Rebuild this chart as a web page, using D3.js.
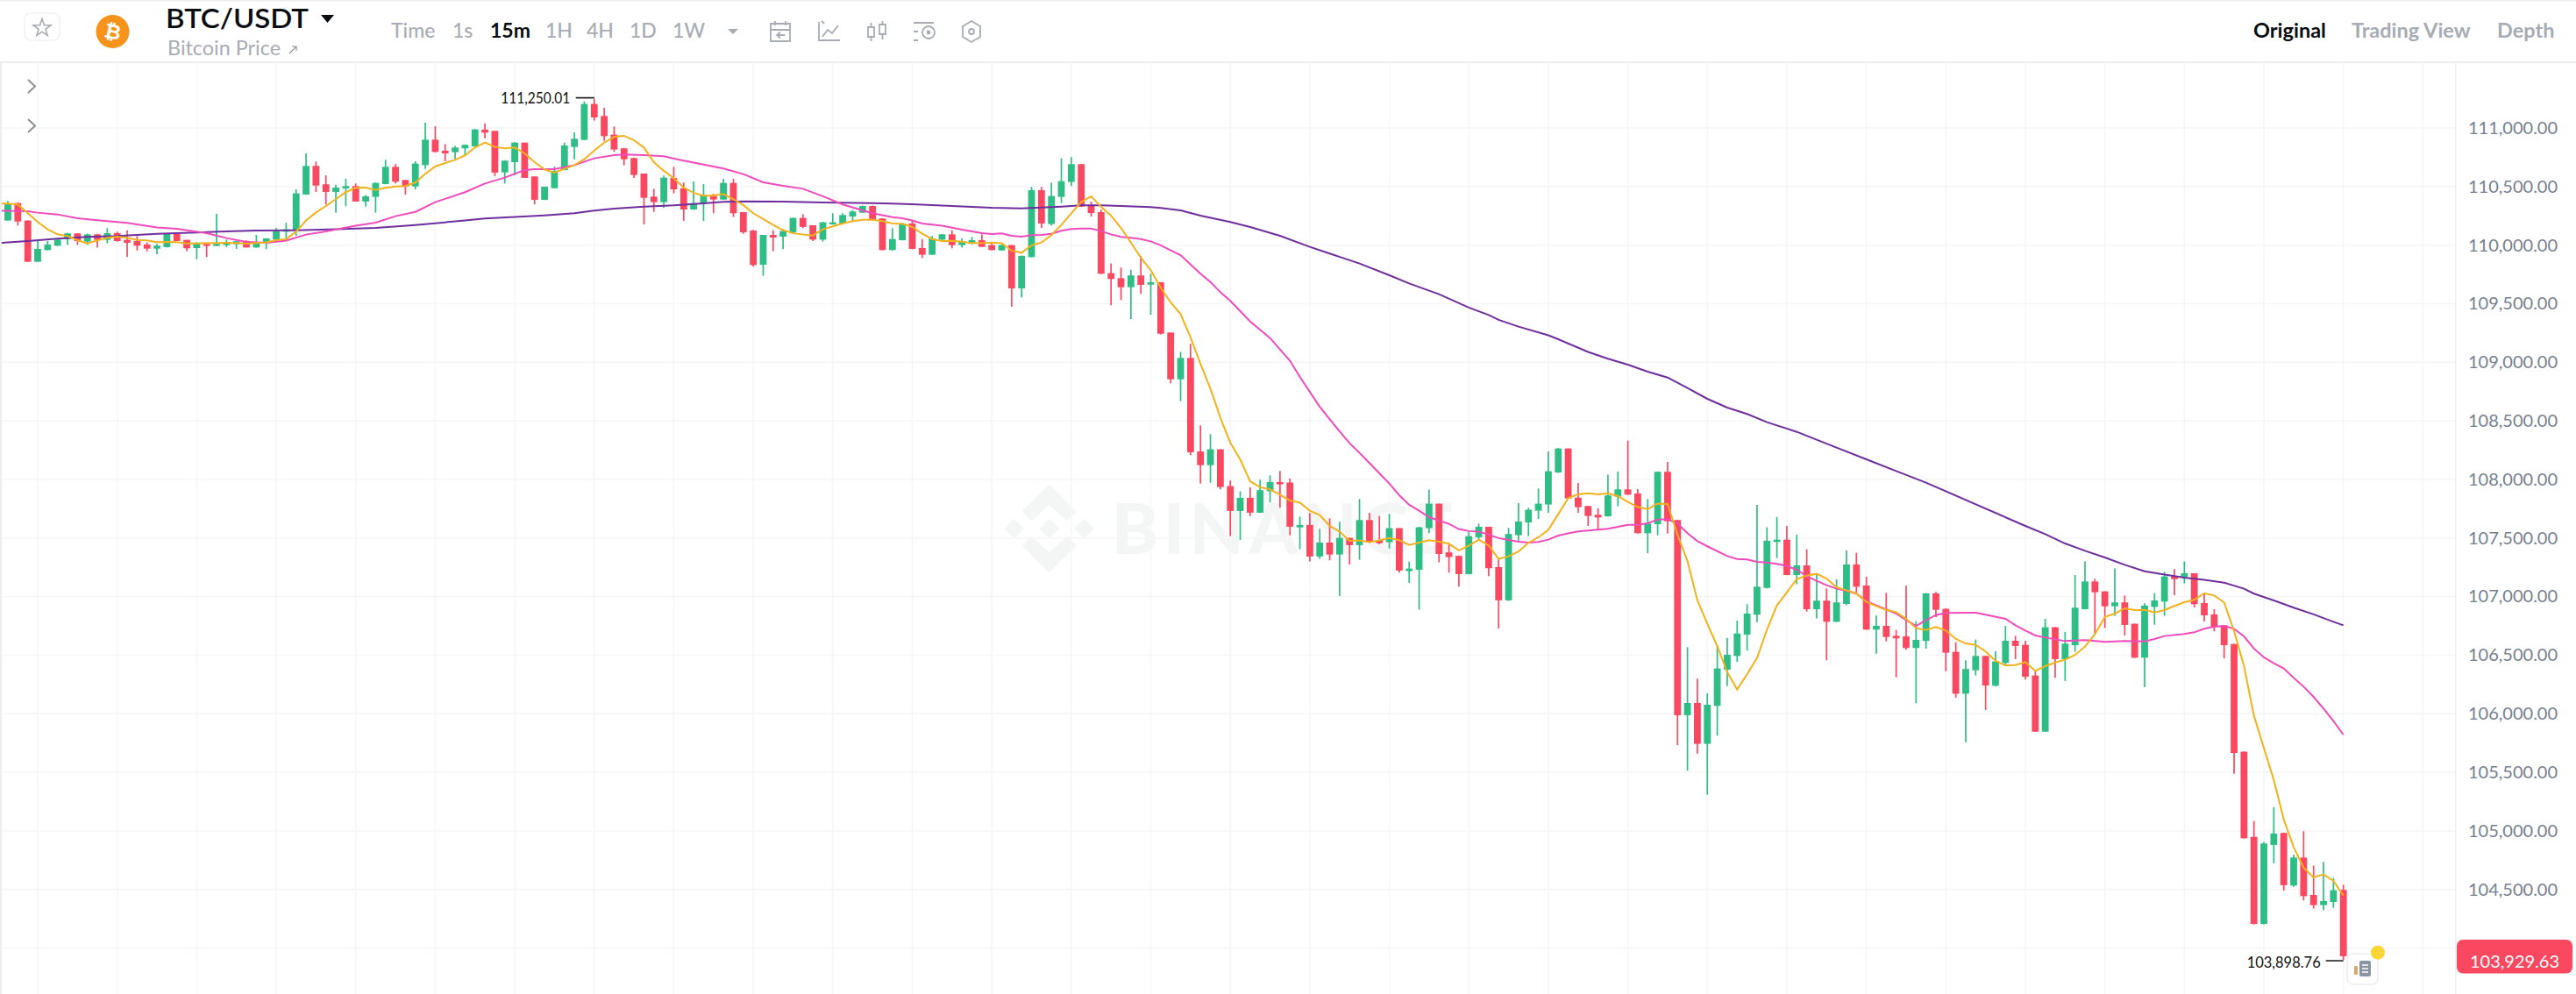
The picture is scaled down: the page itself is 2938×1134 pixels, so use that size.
<!DOCTYPE html>
<html>
<head>
<meta charset="utf-8">
<script src="https://cdnjs.cloudflare.com/ajax/libs/d3/7.8.5/d3.min.js"></script>
<style>
html,body{margin:0;padding:0;background:#fff;overflow:hidden}
svg{display:block}
text{font-family:Lato,"Open Sans",sans-serif}
</style>
</head>
<body>
<svg id="c" width="2938" height="1134"></svg>
<script>
const title = "BTC/USDT";
const subtitle = "Bitcoin Price";
const intervals = ["Time","1s","15m","1H","4H","1D","1W"];
const activeInterval = "15m";
const viewTabs = ["Original","Trading View","Depth"];
const activeView = "Original";
const priceTicks = [111000,110500,110000,109500,109000,108500,108000,107500,107000,106500,106000,105500,105000,104500];
const gridPrices = [111000,110500,110000,109500,109000,108500,108000,107500,107000,106500,106000,105500,105000,104500,104000];
const lastPrice = 103929.63;
const highMark = 111250.01;
const lowMark = 103898.76;

const open = [
110210,110359,110210,109858,109958,109995,110052,110100,110030,110092,
110045,110102,110045,110035,110005,109970,109983,110095,110045,109975,
110010,109993,110000,110008,110035,109980,110018,110047,110115,110122,
110432,110676,110519,110454,110484,110504,110372,110412,110521,110668,
110556,110501,110683,110900,110806,110793,110826,110843,110986,110975,
110621,110708,110875,110586,110387,110486,110641,110838,110898,111205,
111102,110943,110826,110743,110611,110414,110367,110574,110486,110304,
110359,110429,110389,110531,110282,110125,109833,110087,110072,110110,
110232,110170,110047,110177,110185,110244,110277,110334,110227,109958,
110042,110185,109975,109918,110047,110092,110000,110012,110042,110000,
109955,110000,109631,109898,110469,110180,110412,110539,110691,110342,
110282,109761,109718,109641,109741,109663,109683,109254,108855,109037,
108239,108122,108257,107943,107731,107843,107716,107900,107978,107973,
107591,107611,107342,107461,107359,107501,107439,107653,107479,107464,
107584,107217,107229,107584,107793,107377,107347,107192,107506,107596,
107252,106968,107524,107633,107733,107786,108060,108264,107845,107773,
107698,107685,107853,107915,107880,107541,107618,108065,107653,105987,
106092,105743,106067,106376,106493,106675,106845,107074,107466,107486,
107184,107266,106892,106965,106785,106937,107274,107094,106718,106750,
106665,106660,106561,106621,107027,106895,106528,106171,106371,106493,
106239,106433,106623,106588,106326,105847,106738,106466,106585,106892,
107129,107044,106917,106950,106768,106478,106912,106957,107172,107162,
107199,106945,106847,106755,106595,105675,104949,104206,104880,104982,
104533,104772,104453,104366,104393,104496];

const close = [
110352,110202,109858,109968,110005,110047,110100,110035,110092,110045,
110102,110035,110020,109995,109970,109995,110095,110035,109973,110020,
109993,110010,110020,110033,109980,110023,110057,110117,110135,110442,
110676,110509,110454,110491,110504,110372,110417,110531,110668,110541,
110501,110696,110900,110796,110783,110833,110856,110988,110960,110619,
110721,110875,110574,110387,110499,110634,110851,110908,111205,111090,
110930,110816,110733,110599,110404,110367,110576,110476,110304,110359,
110429,110389,110531,110272,110110,109830,110087,110065,110120,110232,
110155,110047,110195,110195,110257,110287,110334,110222,109958,110052,
110185,109968,109918,110055,110092,110000,110030,110042,109985,109958,
110000,109631,109908,110469,110185,110419,110546,110691,110329,110274,
109756,109711,109641,109741,109661,109683,109244,108855,109037,108232,
108122,108257,107935,107731,107843,107716,107908,107978,107958,107596,
107611,107342,107461,107359,107501,107439,107653,107469,107456,107584,
107222,107239,107591,107793,107364,107337,107192,107516,107596,107242,
106968,107534,107641,107741,107793,108070,108264,107838,107763,107688,
107675,107863,107915,107870,107541,107623,108065,107643,105987,106092,
105743,106077,106386,106503,106685,106855,107084,107476,107486,107184,
107266,106892,106965,106785,106950,107274,107084,106718,106750,106655,
106643,106561,106630,107027,106887,106521,106171,106381,106493,106241,
106446,106623,106578,106316,105847,106738,106466,106598,106905,107129,
107037,106917,106950,106758,106478,106922,106967,107172,107149,107199,
106935,106840,106743,106585,105665,104937,104206,104892,104977,104536,
104772,104443,104366,104401,104493,103929.63];

const high = [
110377,110365,110210,110035,110035,110060,110105,110100,110098,110095,
110145,110115,110127,110077,110023,110010,110100,110095,110045,110025,
110015,110267,110047,110035,110040,110087,110060,110147,110190,110476,
110783,110713,110596,110516,110566,110526,110427,110535,110728,110691,
110556,110716,111045,111015,110863,110846,110860,110990,111040,110975,
110725,110878,110875,110586,110499,110671,110875,110963,111227,111250.01,
111172,111013,110830,110748,110611,110481,110594,110668,110534,110544,
110521,110437,110566,110566,110282,110130,110087,110127,110135,110235,
110264,110170,110198,110272,110272,110300,110338,110338,110230,110145,
110188,110215,110050,110077,110095,110127,110060,110070,110092,110015,
110005,110000,109912,110496,110496,110534,110741,110751,110691,110372,
110302,109843,109808,109791,109908,109756,109683,109254,109087,109157,
108461,108386,108257,107990,107898,107933,107998,108035,108072,108008,
107683,107713,107579,107668,107638,107501,107833,107716,107688,107706,
107584,107297,107595,107913,107793,107446,107350,107554,107623,107596,
107317,107586,107798,107758,107923,108239,108268,108264,107970,107773,
107753,108040,108067,108331,107917,107833,108068,108149,107653,106568,
106299,106174,106581,106648,106795,106935,107783,107591,107680,107601,
107528,107404,107192,107069,107147,107394,107374,107169,106837,107032,
106715,107092,106790,107030,107039,106900,106610,106456,106633,106493,
106533,106750,106665,106623,106368,106810,106740,106698,107184,107299,
107152,107046,107241,107009,106768,106942,107029,107211,107234,107299,
107199,107029,106892,106755,106597,105680,105084,104905,105201,104985,
104797,104997,104703,104735,104598,104540];

const low = [
110210,110167,109858,109858,109955,109993,110003,110003,110003,109978,
110015,110030,109898,109955,109948,109923,109980,110035,109948,109880,
109898,109990,109983,109968,109980,109978,109965,110040,110052,110080,
110430,110454,110347,110277,110332,110372,110329,110277,110519,110526,
110432,110476,110651,110790,110716,110733,110771,110840,110913,110589,
110526,110596,110574,110349,110385,110484,110638,110733,110895,111063,
110890,110796,110681,110574,110177,110284,110317,110442,110207,110302,
110205,110272,110387,110240,110097,109816,109738,109948,109965,110105,
110145,110035,110030,110175,110180,110197,110275,110215,109955,109955,
110040,109965,109890,109915,110035,109973,109980,110007,109983,109955,
109953,109474,109554,109895,110147,110167,110359,110504,110325,110244,
109753,109486,109531,109369,109584,109406,109237,108820,108668,108207,
107965,107972,107915,107516,107484,107688,107714,107803,107758,107524,
107404,107299,107322,107309,107007,107274,107314,107459,107446,107409,
107204,107117,106888,107541,107292,107204,107085,107190,107484,107175,
106728,106963,107474,107516,107663,107716,108055,107838,107715,107603,
107573,107683,107770,107868,107538,107371,107523,107538,105733,105513,
105660,105309,105812,106236,106443,106538,106780,107070,107329,107182,
107104,106872,106813,106456,106783,106925,107035,106716,106513,106618,
106311,106546,106089,106556,106825,106363,106137,105757,106326,106032,
106231,106415,106466,106291,105845,105845,106306,106279,106528,106890,
106685,106733,106835,106668,106476,106226,106760,106835,107012,107112,
106907,106787,106703,106473,105488,104933,104200,104200,104723,104491,
104523,104406,104336,104321,104343,103898.76];

// MA(7): one reading per candle, starting one candle before the first drawn candle
const ma7 = [
110354,110354,110347,110272,110197,110135,110092,110077,110042,110015,110040,
110062,110072,110062,110045,110040,110025,110028,110025,110015,110015,
110018,110018,110020,110018,110013,110018,110023,110042,110052,110115,
110210,110279,110334,110392,110452,110489,110491,110471,110489,110501,
110504,110534,110609,110671,110701,110728,110766,110833,110875,110838,
110826,110833,110783,110708,110646,110619,110651,110683,110733,110808,
110875,110925,110933,110895,110833,110708,110634,110571,110491,110447,
110422,110422,110437,110392,110342,110272,110222,110172,110127,110102,
110090,110082,110135,110160,110185,110205,110217,110217,110205,110185,
110182,110155,110097,110052,110035,110037,110030,110017,110017,110022,
110017,109953,109935,109998,110022,110085,110172,110272,110367,110417,
110327,110252,110147,110022,109893,109786,109636,109511,109411,109212,
108987,108775,108526,108314,108170,107983,107933,107915,107870,107820,
107801,107733,107696,107604,107554,107476,107479,107464,107479,107499,
107481,107441,107461,107481,107469,107451,107394,107434,107486,107436,
107322,107344,107384,107459,107506,107569,107703,107840,107873,107882,
107873,107882,107858,107808,107765,107745,107793,107790,107528,107304,
106967,106768,106576,106356,106207,106336,106476,106718,106925,107035,
107149,107179,107194,107154,107079,107054,107025,106955,106917,106887,
106867,106810,106730,106715,106740,106710,106638,106600,106588,106531,
106451,106411,106416,106441,106366,106406,106438,106461,106501,106573,
106680,106827,106855,106900,106885,106887,106865,106885,106920,106952,
106972,107029,107009,106950,106705,106406,105982,105708,105433,105097,
104860,104685,104603,104628,104573,104448];

// MA(25): readings at the candles listed in ma25At
const ma25At = [-1,0,2,3,5,7,9,12,15,17,20,22,24,26,28,30,32,35,37,39,41,43,46,48,50,52,53,55,57,59,61,62,64,66,68,70,72,74,76,78,80,82,84,86,87,
89,90,91,92,94,96,98,99,100,101,102,103,104,105,106,107,108,109,110,111,112,113,114,115,116,117,118,119,120,121,122,123,125,127,129,130,132,134,135,136,137,138,139,140,141,142,143,144,145,146,147,148,149,150,151,152,153,154,155,156,157,158,
160,161,163,164,165,166,167,168,169,170,171,173,174,175,176,177,178,179,180,181,182,183,184,185,186,187,188,189,190,191,192,193,194,195,197,198,199,201,202,203,204,205,207,209,211,213,215,216,217,219,220,221,222,223,224,225,226,227,228,229,230,231,232,233,234,235];
const ma25 = [110292,110292,110289,110277,110262,110230,110212,110190,110150,110140,110102,110060,110028,110020,110038,110090,110117,110165,110192,110247,110284,110367,110452,110526,110576,110641,110649,110649,110683,110741,110768,110773,110768,110758,110721,110688,110654,110606,110536,110506,110481,110417,110347,110297,110272,
110239,110229,110210,110185,110165,110132,110102,110095,110100,110080,110072,110085,110087,110097,110122,110137,110142,110142,110120,110092,110070,110062,110052,110032,109998,109955,109915,109835,109756,109686,109598,109524,109349,109207,109013,108875,108620,108410,108309,108227,108140,108052,107965,107865,107783,107733,107678,107648,107621,107576,107559,107554,107529,107499,107484,107469,107461,107466,107486,107521,107539,107556,
107571,107578,107613,107613,107626,107658,107661,107623,107541,107473,107429,107346,107321,107316,107296,107291,107279,107261,107229,107174,107134,107097,107067,107049,107025,106960,106925,106890,106855,106800,106749,106798,106842,106860,106862,106862,106845,106810,106755,106710,106668,106650,106620,106628,106613,106620,106618,106638,106663,106680,106695,106725,106743,106749,106725,106660,106556,106481,106431,106386,106306,106231,106144,106044,105937,105820];

// MA(99): readings at the candles listed in ma99At
const ma99At = [-1,0,2,5,8,11,15,19,22,25,29,33,37,41,43,46,48,51,54,57,59,61,64,67,70,72,74,78,82,87,91,95,99,102,106,108,110,112,115,116,118,120,123,125,128,131,133,136,139,141,144,147,149,150,152,155,156,159,161,163,165,167,169,171,173,175,177,180,184,187,190,193,203,205,207,209,211,213,215,217,219,221,223,225,226,228,230,232,234,235];
const ma99 = [110018,110023,110035,110055,110070,110077,110097,110107,110117,110125,110127,110135,110147,110172,110187,110210,110227,110240,110254,110272,110294,110312,110329,110339,110357,110369,110374,110372,110364,110359,110349,110334,110319,110314,110329,110339,110339,110334,110324,110317,110297,110252,110197,110155,110080,109985,109928,109843,109743,109673,109581,109467,109404,109362,109304,109230,109197,109088,109030,108980,108920,108870,108781,108688,108613,108559,108489,108406,108272,108172,108072,107972,107603,107533,107453,107391,107334,107271,107216,107187,107162,107142,107119,107067,107025,106967,106905,106848,106785,106755];

if (open.length!==236||close.length!==236||high.length!==236||low.length!==236||ma7.length!==237||ma25.length!==ma25At.length||ma99.length!==ma99At.length)
  throw new Error("lengths "+[open.length,close.length,high.length,low.length,ma7.length,ma25.length,ma25At.length,ma99.length,ma99At.length]);

const green="#2EBD85", red="#FA4860", gridCol="#f6f6f6", edgeCol="#eeeeee";
const gray="#a7acb4";
const svg=d3.select("#c");

const x=d3.scaleLinear().domain([0,235]).range([9,2672.7]);
const y=d3.scaleLinear().domain([111000,104500]).range([146,1014.7]);
const plotL=2, plotR=2800, plotT=72, plotB=1134;
const bodyW=7.8, wickW=1.7;

svg.append("defs").append("clipPath").attr("id","plot").append("rect")
  .attr("x",plotL).attr("y",plotT).attr("width",plotR-plotL).attr("height",plotB-plotT);

svg.append("rect").attr("width",2938).attr("height",1134).attr("fill","#fff");
svg.append("rect").attr("width",2938).attr("height",1.5).attr("fill",edgeCol);
svg.append("rect").attr("y",70).attr("width",2938).attr("height",2).attr("fill",edgeCol);
svg.append("rect").attr("y",72).attr("width",2).attr("height",1062).attr("fill",edgeCol);

// watermark
const wm=svg.append("g").attr("fill","#f4f5f5");
(function(){
  const cx=1196.7, cy=603, s=11.3;
  const dia=(a,b,r)=>`M${a-r},${b}L${a},${b-r}L${a+r},${b}L${a},${b+r}Z`;
  wm.append("path").attr("d",dia(cx,cy,s)+dia(cx-40,cy,s)+dia(cx+40,cy,s));
  wm.append("path").attr("d",`M${cx},${cy-50.5}L${cx+31},${cy-19.5}L${cx+20},${cy-8.5}L${cx},${cy-27.5}L${cx-20},${cy-8.5}L${cx-31},${cy-19.5}Z`);
  wm.append("path").attr("d",`M${cx},${cy+50.5}L${cx+31},${cy+19.5}L${cx+20},${cy+8.5}L${cx},${cy+27.5}L${cx-20},${cy+8.5}L${cx-31},${cy+19.5}Z`);
  wm.append("text").attr("x",1268).attr("y",632).attr("font-size",80).attr("font-weight",900)
    .attr("textLength",390).attr("lengthAdjust","spacing").text("BINANCE");
})();

// grid
const timeGrid=d3.range(3,244,8);
svg.append("g").selectAll("line").data(timeGrid).join("line")
  .attr("x1",d=>x(d)).attr("x2",d=>x(d)).attr("y1",plotT).attr("y2",plotB)
  .attr("stroke",gridCol).attr("stroke-width",1.5);
svg.append("g").selectAll("line").data(gridPrices).join("line")
  .attr("x1",plotL).attr("x2",plotR).attr("y1",d=>y(d)).attr("y2",d=>y(d))
  .attr("stroke",gridCol).attr("stroke-width",1.5);
svg.append("rect").attr("x",2800).attr("y",72).attr("width",1.5).attr("height",1062).attr("fill",edgeCol);

// candles
const plot=svg.append("g").attr("clip-path","url(#plot)");
const idx=d3.range(open.length);
const col=i=>close[i]>=open[i]?green:red;
plot.append("g").selectAll("line").data(idx).join("line")
  .attr("x1",i=>x(i)).attr("x2",i=>x(i)).attr("y1",i=>y(high[i])).attr("y2",i=>y(low[i]))
  .attr("stroke",col).attr("stroke-width",wickW);
plot.append("g").selectAll("rect").data(idx).join("rect")
  .attr("x",i=>x(i)-bodyW/2).attr("width",bodyW)
  .attr("y",i=>y(Math.max(open[i],close[i])))
  .attr("height",i=>Math.max(2,Math.abs(y(open[i])-y(close[i]))))
  .attr("fill",col);

// moving averages
const lineGen=d3.line().x(d=>x(d[0])).y(d=>y(d[1]));
const ma7Pts=ma7.map((v,i)=>[i-1,v]);
const ma25Pts=ma25.map((v,i)=>[ma25At[i],v]);
const ma99Pts=ma99.map((v,i)=>[ma99At[i],v]);
plot.append("path").attr("d",lineGen(ma99Pts)).attr("fill","none").attr("stroke","#6F2E9E").attr("stroke-width",2);
plot.append("path").attr("d",lineGen(ma25Pts)).attr("fill","none").attr("stroke","#F14BBB").attr("stroke-width",2);
plot.append("path").attr("d",lineGen(ma7Pts)).attr("fill","none").attr("stroke","#F3B21C").attr("stroke-width",2);

// extreme labels
const hiI=high.indexOf(highMark), loI=low.indexOf(lowMark);
svg.append("line").attr("x1",x(hiI)-21).attr("x2",x(hiI)).attr("y1",y(highMark)-1).attr("y2",y(highMark)-1).attr("stroke","#111").attr("stroke-width",1.6);
svg.append("text").attr("x",x(hiI)-27.5).attr("y",y(highMark)+5).attr("text-anchor","end").attr("font-size",16.5).attr("fill","#111").attr("font-family","Inter").attr("textLength",79).attr("lengthAdjust","spacingAndGlyphs").text(d3.format(",.2f")(highMark));
svg.append("line").attr("x1",x(loI)-20).attr("x2",x(loI)).attr("y1",y(lowMark)+1).attr("y2",y(lowMark)+1).attr("stroke","#222").attr("stroke-width",1.6);
svg.append("text").attr("x",x(loI)-26).attr("y",y(lowMark)+9).attr("text-anchor","end").attr("font-size",16.5).attr("fill","#111").attr("font-family","Inter").attr("textLength",84).attr("lengthAdjust","spacingAndGlyphs").text(d3.format(",.2f")(lowMark));

// axis
const axis=d3.axisRight(y).tickValues(priceTicks).tickSize(0).tickPadding(0).tickFormat(d3.format(",.2f"));
const ax=svg.append("g").attr("transform","translate(2815,0)").call(axis);
ax.select(".domain").remove();
ax.selectAll("text").attr("font-size",20).attr("fill","#76808F").attr("font-family","Lato");

// last price tag
svg.append("rect").attr("x",2802).attr("y",y(lastPrice)-19).attr("width",132).attr("height",38.5).attr("rx",7).attr("fill",red);
svg.append("text").attr("x",2868).attr("y",y(lastPrice)+13).attr("text-anchor","middle").attr("font-size",20).attr("fill","#fff").text(d3.format(",.2f")(lastPrice));

// marker near the last candle
svg.append("rect").attr("x",2677).attr("y",1088).attr("width",35).attr("height",35).attr("rx",7).attr("fill","#fff").attr("stroke","#eceef0").attr("stroke-width",1.5);
svg.append("rect").attr("x",2691).attr("y",1096).attr("width",13).attr("height",18).attr("rx",2).attr("fill","#8a94a3");
svg.append("path").attr("d","M2694,1101h7M2694,1105h7M2694,1109h7").attr("stroke","#fff").attr("stroke-width",1.5);
svg.append("rect").attr("x",2685).attr("y",1102).attr("width",4).attr("height",10).attr("rx",1).attr("fill","#d9a766");
svg.append("circle").attr("cx",2712).attr("cy",1086.7).attr("r",8).attr("fill","#FCD535");

// chevrons
svg.append("path").attr("d","M32,91L40,98.5L32,106M32,136L40,143.5L32,151").attr("fill","none").attr("stroke","#8c8f94").attr("stroke-width",2);

// toolbar
const bar=svg.append("g");
bar.append("rect").attr("x",28).attr("y",15).attr("width",40).attr("height",31).attr("rx",7).attr("fill","#fff").attr("stroke","#eeeeee").attr("stroke-width",1.2);
const star=d3.range(10).map(i=>{const r=i%2?4.2:10.5,a=-Math.PI/2+i*Math.PI/5;return [48+r*Math.cos(a),32+r*Math.sin(a)];});
bar.append("path").attr("d",d3.line()(star)+"Z").attr("fill","none").attr("stroke",gray).attr("stroke-width",1.6);
bar.append("circle").attr("cx",128.5).attr("cy",36).attr("r",19).attr("fill","#F7931A");
bar.append("text").attr("x",128.5).attr("y",44).attr("text-anchor","middle").attr("font-size",23).attr("font-weight",700).attr("fill","#fff").attr("transform","rotate(12 128.5 36)").attr("font-family","DejaVu Sans").text("₿");
bar.append("text").attr("x",189).attr("y",32).attr("font-size",31).attr("font-weight",600).attr("fill","#0b0e11").attr("font-family","Inter").attr("textLength",163).attr("lengthAdjust","spacingAndGlyphs").text(title);
bar.append("path").attr("d","M366,17L381,17L373.5,26Z").attr("fill","#0b0e11");
bar.append("text").attr("x",191).attr("y",63).attr("font-size",22.5).attr("fill",gray).attr("textLength",129).attr("lengthAdjust","spacingAndGlyphs").text(subtitle);
bar.append("path").attr("d","M330,61L338,53M333,53h5v5").attr("fill","none").attr("stroke","#8c8f94").attr("stroke-width",1.1);

const intX=[446,516,559,622,669,718,767];
bar.selectAll("text.iv").data(intervals).join("text").attr("class","iv")
  .attr("x",(d,i)=>intX[i]).attr("y",43).attr("font-size",23)
  .attr("font-weight",d=>d===activeInterval?700:500)
  .attr("fill",d=>d===activeInterval?"#0b0e11":gray).text(d=>d);
bar.append("path").attr("d","M830,33L842,33L836,39Z").attr("fill",gray);

// toolbar icons
const ic=bar.append("g").attr("fill","none").attr("stroke",gray).attr("stroke-width",1.8);
ic.append("path").attr("d","M879,27h22v20h-22zM879,34h22M884,24v5M896,24v5M895,40h-9M890,36.5l-4,3.5l4,3.5");
ic.append("path").attr("d","M934,25v21h24M938,42l6,-8l5,4l7,-9M937,24l3,3");
ic.append("path").attr("d","M990,31h7v11h-7zM1003,28h7v11h-7zM993.5,26v5M993.5,42v5M1006.5,24v4M1006.5,39v6");
ic.append("path").attr("d","M1042,26h23M1042,36h5M1042,46h5");
ic.append("circle").attr("cx",1059).attr("cy",37).attr("r",7);
ic.append("circle").attr("cx",1059).attr("cy",37).attr("r",1.5).attr("fill",gray);
ic.append("path").attr("d","M1108,24l10,6v12l-10,6l-10,-6v-12z");
ic.append("circle").attr("cx",1108).attr("cy",36).attr("r",3);

const tabX=[2570,2682,2848];
bar.selectAll("text.tb").data(viewTabs).join("text").attr("class","tb")
  .attr("x",(d,i)=>tabX[i]).attr("y",43).attr("font-size",23.5).attr("font-weight",700)
  .attr("fill",d=>d===activeView?"#0b0e11":gray).text(d=>d);
</script>
</body>
</html>
